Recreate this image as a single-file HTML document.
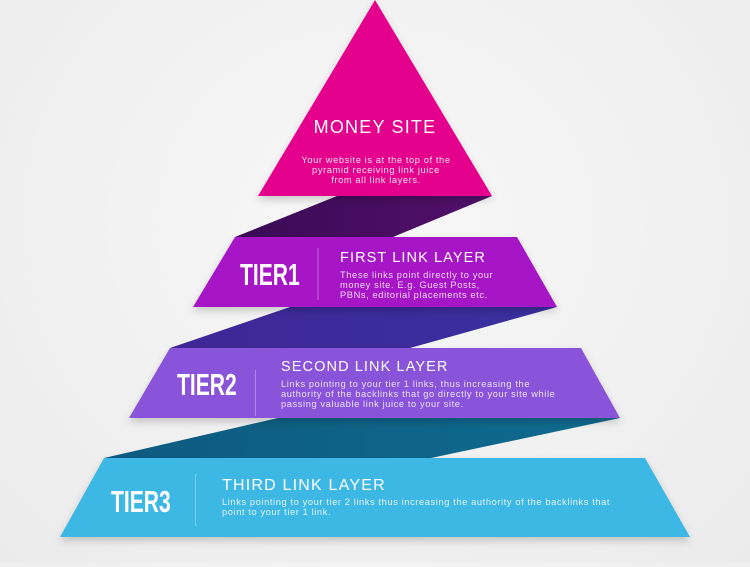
<!DOCTYPE html>
<html><head><meta charset="utf-8"><style>
html,body{margin:0;padding:0}
body{width:750px;height:562px;overflow:hidden;background:radial-gradient(ellipse at 50% 40%,#f8f8f8,#ebebeb);font-family:"Liberation Sans",sans-serif;}
</style></head><body>
<svg width="750" height="562" viewBox="0 0 750 562" xmlns="http://www.w3.org/2000/svg">
<defs>
<filter id="sh" x="-10%" y="-10%" width="120%" height="140%"><feDropShadow dx="0" dy="4" stdDeviation="4" flood-color="#000" flood-opacity="0.18"/></filter>
<linearGradient id="b1" x1="0" y1="0" x2="1" y2="0"><stop offset="0" stop-color="#3a0a55"/><stop offset="1" stop-color="#52106a"/></linearGradient>
<linearGradient id="b2" x1="0" y1="0" x2="1" y2="0"><stop offset="0" stop-color="#3f2796"/><stop offset="1" stop-color="#3a2fa0"/></linearGradient>
<linearGradient id="b3" x1="0" y1="0" x2="1" y2="0"><stop offset="0" stop-color="#0d5a80"/><stop offset="1" stop-color="#0f6b8e"/></linearGradient>
</defs>
<polygon points="278,418 620,418 431,458 104,458" fill="url(#b3)"/>
<polygon points="290,307 557,307 410,348 170,348" fill="url(#b2)"/>
<polygon points="337,196 492,196 393,237 235,237" fill="url(#b1)"/>
<polygon points="375,0 492,196 258,196" fill="#e4018c" filter="url(#sh)"/>
<polygon points="235,237 517,237 557,307 193,307" fill="#a613c6" filter="url(#sh)"/>
<polygon points="170,348 581,348 620,418 129,418" fill="#8953da" filter="url(#sh)"/>
<polygon points="104,458 645,458 690,537 60,537" fill="#3cb7e4" filter="url(#sh)"/>
<g fill="#fff" font-family="Liberation Sans, sans-serif">
<text x="375" y="133" text-anchor="middle" font-size="18" letter-spacing="1.2">MONEY SITE</text>
<g font-size="9.3" text-anchor="middle" letter-spacing="0.6" fill="#fbe0ef">
<text x="376" y="163">Your website is at the top of the</text>
<text x="376" y="173">pyramid receiving link juice</text>
<text x="376" y="183">from all link layers.</text>
</g>
<text x="0" y="0" font-size="31" font-weight="bold" transform="translate(240,285) scale(0.68,1)">TIER1</text>
<rect x="317.5" y="248" width="1" height="52" fill="#c46ad8"/>
<text x="340" y="262" font-size="14.5" letter-spacing="1.1">FIRST LINK LAYER</text>
<g font-size="9.3" letter-spacing="0.6" fill="#f0d6f6">
<text x="340" y="278">These links point directly to your</text>
<text x="340" y="288">money site. E.g. Guest Posts,</text>
<text x="340" y="298">PBNs, editorial placements etc.</text>
</g>
<text x="0" y="0" font-size="31" font-weight="bold" transform="translate(177,395) scale(0.68,1)">TIER2</text>
<rect x="255" y="370" width="1" height="46" fill="#ad86e6"/>
<text x="281" y="371" font-size="14.5" letter-spacing="1.1">SECOND LINK LAYER</text>
<g font-size="9.3" letter-spacing="0.6" fill="#ece2fa">
<text x="281" y="387">Links pointing to your tier 1 links, thus increasing the</text>
<text x="281" y="397">authority of the backlinks that go directly to your site while</text>
<text x="281" y="407">passing valuable link juice to your site.</text>
</g>
<text x="0" y="0" font-size="31" font-weight="bold" transform="translate(111,512) scale(0.68,1)">TIER3</text>
<rect x="195" y="474" width="1" height="52" fill="#7fd0ee"/>
<text x="222" y="490" font-size="16" letter-spacing="1.2">THIRD LINK LAYER</text>
<g font-size="9.3" letter-spacing="0.6" fill="#e2f4fb">
<text x="222" y="505">Links pointing to your tier 2 links thus increasing the authority of the backlinks that</text>
<text x="222" y="515">point to your tier 1 link.</text>
</g>
</g>
</svg>
</body></html>
